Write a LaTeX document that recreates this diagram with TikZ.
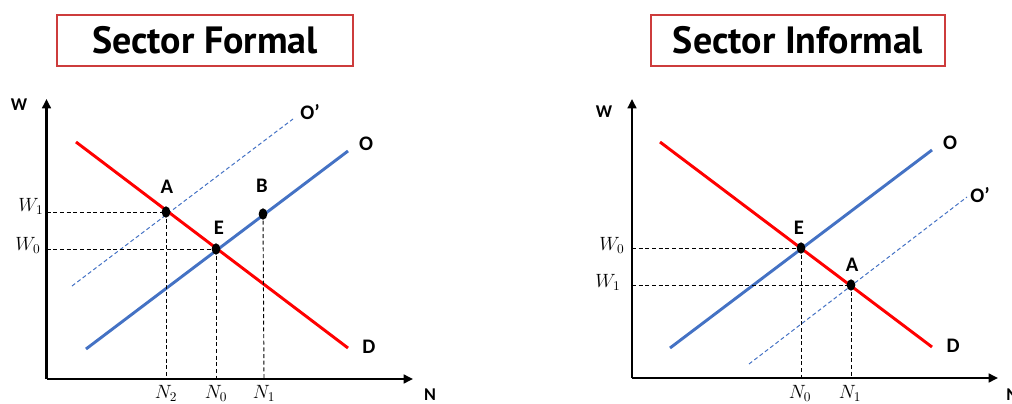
\documentclass[tikz,border=0pt]{standalone}
\usepackage{fontspec}
\newfontfamily\titlefont{PT Sans}
\newfontfamily\labfont{Carlito}
\usetikzlibrary{shapes.geometric,arrows.meta}
\definecolor{oblue}{RGB}{68,114,196}
\definecolor{tred}{RGB}{205,60,60}
\begin{document}
\begin{tikzpicture}[x=0.75pt,y=-0.75pt,
  axis/.style={line width=2.2pt,-{Triangle[length=7pt,width=6.5pt]}},
  dcurve/.style={draw=red,line width=2.2pt},
  ocurve/.style={draw=oblue,line width=2.2pt},
  shiftcurve/.style={draw=oblue,line width=0.75pt,dash pattern=on 3pt off 2pt},
  guide/.style={draw=black,line width=0.7pt,dash pattern=on 3pt off 2pt},
  dot/.style={ellipse,fill=black,minimum width=6.5pt,minimum height=8.5pt,inner sep=0pt},
  ptlab/.style={font=\labfont\bfseries\fontsize{15.5}{15.5}\selectfont,inner sep=0pt},
  axlab/.style={font=\labfont\bfseries\fontsize{13.5}{13.5}\selectfont,inner sep=0pt},
  mlab/.style={font=\fontsize{14}{14}\selectfont,inner sep=0pt},
  titlebox/.style={draw=tred,line width=1.1pt,minimum width=222pt,minimum height=38pt,
    font=\titlefont\bfseries\fontsize{28.5}{28.5}\selectfont}]
\useasboundingbox (0,0) rectangle (1012,403);

% ---------- titles ----------
\node[titlebox] (t1) at (205,40.5) {Sector Formal};
\node[titlebox,minimum width=220.5pt] (t2) at (798,40.5) {Sector Informal};

% ---------- left graph ----------
\coordinate (LO) at (46.5,379);
\coordinate (LY) at (46.5,99);
\coordinate (LX) at (413,379);
\draw[axis] (LO) -- (LY);
\draw[axis] (LO) -- (LX);
\node[axlab] (LW) at (19,105) {W};
\node[axlab] (LN) at (430,395) {N};

\coordinate (LD1) at (76,142);
\coordinate (LD2) at (348,348);
\coordinate (LS1) at (86,349);
\coordinate (LS2) at (348,151);
\coordinate (LP1) at (72,286);
\coordinate (LP2) at (293,119);
\draw[shiftcurve] (LP1) -- (LP2);
\draw[dcurve] (LD1) -- (LD2);
\draw[ocurve] (LS1) -- (LS2);

\node[dot] (LA) at (166,212) {};
\node[dot] (LE) at (216,249) {};
\node[dot] (LB) at (263,214) {};

\coordinate (LW1) at (46.5,212);
\coordinate (LW0) at (46.5,249);
\coordinate (LN2) at (166,379);
\coordinate (LN0) at (216,379);
\coordinate (LN1) at (264,379);
\draw[guide] (LW1) -- (LA.center);
\draw[guide] (LW0) -- (LE.center);
\draw[guide] (LA.center) -- (LN2);
\draw[guide] (LE.center) -- (LN0);
\draw[guide] (LB.center) -- (LN1);

\node[ptlab] (LOl) at (366,144) {O};
\node[ptlab] (LDl) at (369,347) {D};
\node[ptlab] (LOpl) at (310,112) {O’};
\node[ptlab] (LAl) at (167,187) {A};
\node[ptlab] (LBl) at (262,186) {B};
\node[ptlab] (LEl) at (219,228) {E};

\node[mlab] (LW1l) at (31,206) {$W_1$};
\node[mlab] (LW0l) at (28,245) {$W_0$};
\node[mlab] (LN2l) at (166,393) {$N_2$};
\node[mlab] (LN0l) at (216,393) {$N_0$};
\node[mlab] (LN1l) at (264,393) {$N_1$};

% ---------- right graph ----------
\coordinate (RO) at (632,378);
\coordinate (RY) at (632,99);
\coordinate (RX) at (998,378);
\draw[axis] (RO) -- (RY);
\draw[axis] (RO) -- (RX);
\node[axlab] (RW) at (604,112) {W};
\node[axlab,anchor=west] (RN) at (1006,395) {N};

\coordinate (RD1) at (660,142);
\coordinate (RD2) at (932,347);
\coordinate (RS1) at (670,348);
\coordinate (RS2) at (932,150);
\coordinate (RP1) at (749,364);
\coordinate (RP2) at (967,197);
\draw[shiftcurve] (RP1) -- (RP2);
\draw[dcurve] (RD1) -- (RD2);
\draw[ocurve] (RS1) -- (RS2);

\node[dot] (RE) at (801,248) {};
\node[dot] (RA) at (851,285) {};

\coordinate (RW0) at (632,248);
\coordinate (RW1) at (632,285);
\coordinate (RN0) at (801,378);
\coordinate (RN1) at (851,378);
\draw[guide] (RW0) -- (RE.center);
\draw[guide] (RW1) -- (RA.center);
\draw[guide] (RE.center) -- (RN0);
\draw[guide] (RA.center) -- (RN1);

\node[ptlab] (ROl) at (950,143) {O};
\node[ptlab] (RDl) at (953,346) {D};
\node[ptlab] (ROpl) at (980,195) {O’};
\node[ptlab] (REl) at (799,228) {E};
\node[ptlab] (RAl) at (852,265) {A};

\node[mlab] (RW0l) at (612,245) {$W_0$};
\node[mlab] (RW1l) at (608,282) {$W_1$};
\node[mlab] (RN0l) at (800,393) {$N_0$};
\node[mlab] (RN1l) at (850,393) {$N_1$};
\end{tikzpicture}
\end{document}
